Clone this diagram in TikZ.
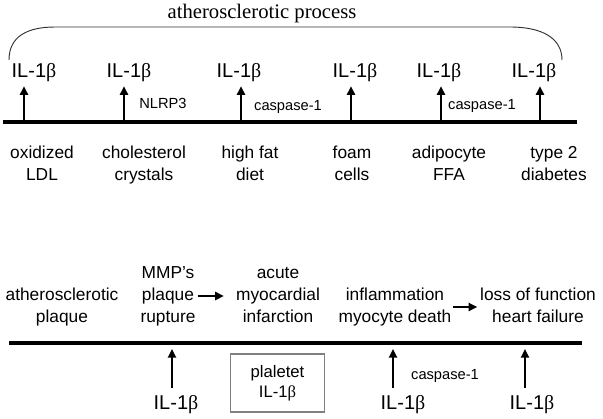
\documentclass[tikz,border=0pt]{standalone}
\usepackage{fontspec}
\setmainfont{Liberation Sans}
\newfontfamily\serifface{Liberation Serif}
\usetikzlibrary{arrows.meta,backgrounds}

\newcommand{\ilb}{IL-1{\serifface β}}

\tikzset{
    il/.style={font=\fontsize{15}{18}\selectfont, inner sep=0pt, anchor=base},
    lbl/.style={font=\fontsize{13}{16.5}\selectfont, align=center, inner sep=0pt, anchor=base},
    small/.style={font=\fontsize{11}{13}\selectfont, inner sep=0pt, anchor=base},
    titletext/.style={font=\serifface\fontsize{15.5}{18}\selectfont, inner sep=0pt, anchor=base},
    platbox/.style={draw=black!50, line width=0.8pt, font=\fontsize{12.5}{15}\selectfont, align=center,
        minimum width=71pt, minimum height=43.5pt, inner sep=0pt},
    bar/.style={line width=3pt},
    bracket/.style={black!80, line width=0.7pt},
    uparr/.style={line width=2pt, -{Triangle[width=6pt,length=6.5pt]}},
    toparr/.style={uparr, shorten >=3.5pt},
    botarr/.style={uparr, shorten <=5pt},
}

\begin{document}
\begin{tikzpicture}[x=0.75pt,y=-0.75pt]
    % white background
    \useasboundingbox (0,0) rectangle (603,418);
    \begin{scope}[on background layer]
        \fill [white] (0,0) rectangle (603,418);
    \end{scope}

    % title and bracket
    \node[titletext] (proc) at (262,18) {atherosclerotic process};
    \draw[bracket] (9,60) .. controls (9,36) and (28,27) .. (55,27) -- (510,27)
        .. controls (542,27) and (562,38) .. (562,60);

    % top row IL-1b
    \node[il] (t1) at (34,77) {\ilb};
    \node[il] (t2) at (129,77) {\ilb};
    \node[il] (t3) at (239,77) {\ilb};
    \node[il] (t4) at (355,77) {\ilb};
    \node[il] (t5) at (439,77) {\ilb};
    \node[il] (t6) at (534,77) {\ilb};

    % top line
    \draw[bar] (3,122) -- (577,122);
    \coordinate (r1) at (24,120);
    \coordinate (r2) at (124,120);
    \coordinate (r3) at (241,120);
    \coordinate (r4) at (351,120);
    \coordinate (r5) at (441,120);
    \coordinate (r6) at (540,120);

    % top arrows
    \draw[toparr] (r1) -- (r1 |- t1.south);
    \draw[toparr] (r2) -- (r2 |- t2.south);
    \draw[toparr] (r3) -- (r3 |- t3.south);
    \draw[toparr] (r4) -- (r4 |- t4.south);
    \draw[toparr] (r5) -- (r5 |- t5.south);
    \draw[toparr] (r6) -- (r6 |- t6.south);

    % top annotations
    \node[small] (nlrp) at (163,108) {NLRP3};
    \node[small] (casp1) at (288,110) {caspase-1};
    \node[small] (casp2) at (482,109) {caspase-1};

    % causes (base = last line)
    \node[lbl] (ldl) at (42,180) {oxidized\\LDL};
    \node[lbl] (chol) at (144,180) {cholesterol\\crystals};
    \node[lbl] (diet) at (250,180) {high fat\\diet};
    \node[lbl] (foam) at (352,180) {foam\\cells};
    \node[lbl] (ffa) at (449,180) {adipocyte\\FFA};
    \node[lbl] (diab) at (554,180) {type 2\\diabetes};

    % clinical events (base = last line)
    \node[lbl] (plaque) at (62,322) {atherosclerotic\\plaque};
    \node[lbl] (rupt) at (168,322) {MMP’s\\plaque\\rupture};
    \node[lbl] (ami) at (278,322) {acute\\myocardial\\infarction};
    \node[lbl] (death) at (395,322) {inflammation\\myocyte death};
    \node[lbl] (hf) at (538,322) {loss of function\\heart failure};

    \draw[uparr] ([xshift=2pt]rupt.east |- 0,296) -- ([xshift=-9pt]ami.west |- 0,296);
    \draw[uparr] ([xshift=1pt]death.east |- 0,307) -- ([xshift=-2pt]hf.west |- 0,307);

    % bottom line
    \draw[bar] (9,343) -- (582,343);
    \coordinate (s1) at (172,349);
    \coordinate (s2) at (393,349);
    \coordinate (s3) at (525,349);

    % bottom IL-1b
    \node[il] (b1) at (176,409) {\ilb};
    \node[il] (b2) at (403,409) {\ilb};
    \node[il] (b3) at (532,409) {\ilb};
    \node[small] (casp3) at (445,379) {caspase-1};
    \node[platbox] (plt) at (277.5,383) {plaletet\\\ilb};

    % bottom arrows
    \draw[botarr] (s1 |- b1.north) -- (s1);
    \draw[botarr] (s2 |- b2.north) -- (s2);
    \draw[botarr] (s3 |- b3.north) -- (s3);

\end{tikzpicture}
\end{document}
